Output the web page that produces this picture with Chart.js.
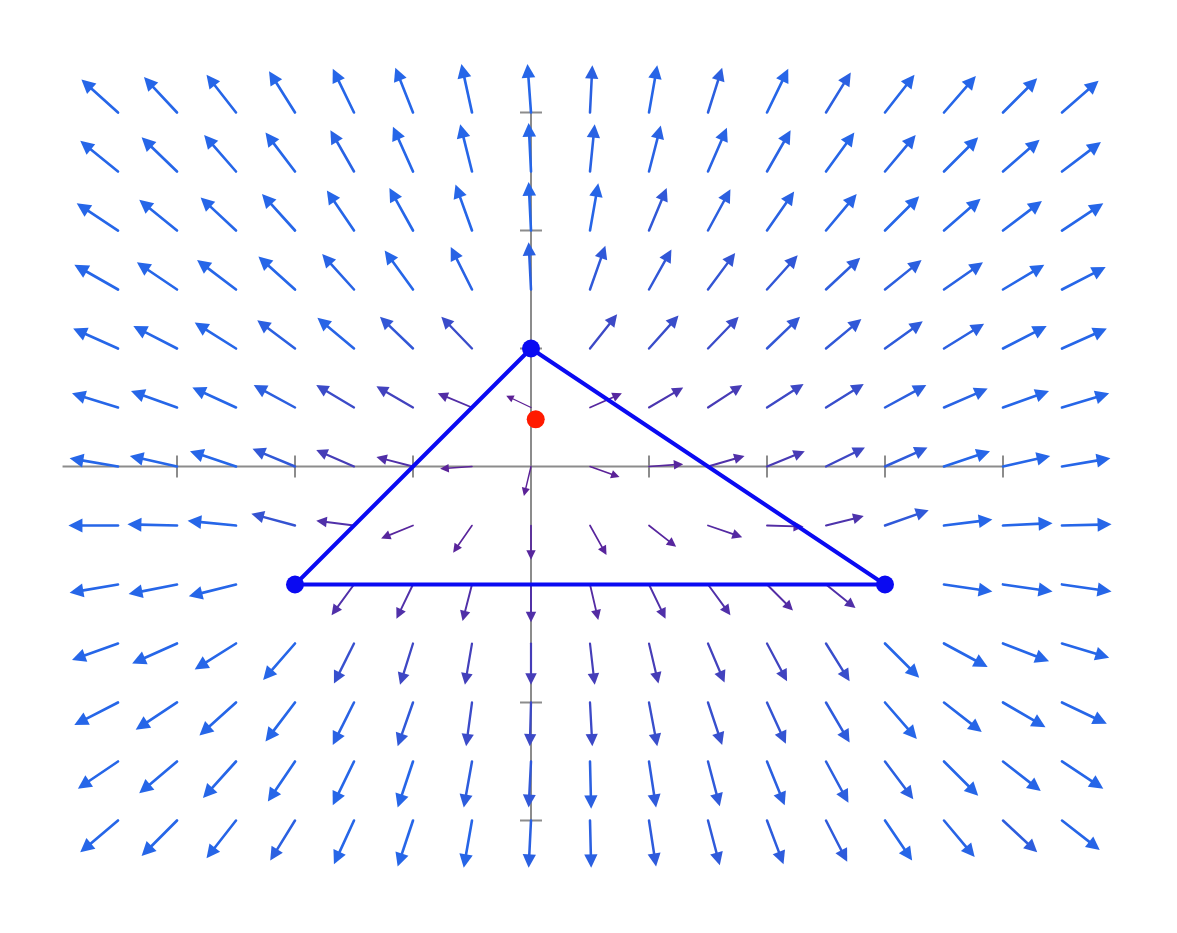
<!DOCTYPE html>
<html>
<head>
<meta charset="utf-8">
<script src="https://cdn.jsdelivr.net/npm/chart.js@4"></script>
<style>
  html, body { margin: 0; padding: 0; background: #fff; }
  canvas { display: block; }
</style>
</head>
<body>
<canvas id="myChart" width="1177" height="933"></canvas>
<script>
// grid of arrow tails
const gridX = [-3.5, -3, -2.5, -2, -1.5, -1, -0.5, 0, 0.5, 1, 1.5, 2, 2.5, 3, 3.5, 4, 4.5];
const gridY = [3, 2.5, 2, 1.5, 1, 0.5, 0, -0.5, -1, -1.5, -2, -2.5, -3];

// arrow components (x), one row per gridY value, null = no arrow
const arrowU = [
  [-0.31,-0.28,-0.25,-0.22,-0.18,-0.15,-0.09,-0.03,0.02,0.07,0.12,0.18,0.21,0.25,0.27,0.29,0.31],
  [-0.32,-0.30,-0.27,-0.25,-0.20,-0.17,-0.10,-0.02,0.04,0.10,0.16,0.20,0.24,0.26,0.29,0.31,0.33],
  [-0.35,-0.32,-0.30,-0.28,-0.23,-0.20,-0.14,-0.02,0.07,0.15,0.19,0.23,0.26,0.29,0.31,0.33,0.35],
  [-0.37,-0.34,-0.33,-0.31,-0.27,-0.24,-0.18,-0.02,0.13,0.19,0.23,0.26,0.29,0.31,0.33,0.35,0.37],
  [-0.38,-0.37,-0.35,-0.32,-0.31,-0.28,-0.26,null,0.23,0.25,0.26,0.28,0.30,0.32,0.34,0.37,0.38],
  [-0.39,-0.39,-0.37,-0.35,-0.32,-0.31,-0.29,-0.21,0.27,0.29,0.29,0.31,0.32,0.35,0.37,0.39,0.40],
  [-0.41,-0.40,-0.39,-0.36,-0.32,-0.31,-0.27,-0.06,0.25,0.29,0.31,0.32,0.33,0.36,0.39,0.40,0.41],
  [-0.42,-0.42,-0.41,-0.37,-0.32,-0.27,-0.16,0.00,0.14,0.23,0.29,0.31,0.32,0.37,0.41,0.42,0.42],
  [-0.41,-0.41,-0.40,null,-0.19,-0.14,-0.08,0.00,0.07,0.14,0.19,0.22,0.25,null,0.41,0.42,0.42],
  [-0.39,-0.38,-0.35,-0.27,-0.17,-0.11,-0.06,0.00,0.04,0.08,0.14,0.17,0.20,0.29,0.37,0.39,0.40],
  [-0.37,-0.35,-0.31,-0.25,-0.18,-0.13,-0.05,-0.01,0.02,0.07,0.12,0.16,0.20,0.27,0.32,0.36,0.38],
  [-0.34,-0.32,-0.28,-0.23,-0.18,-0.13,-0.07,-0.02,0.01,0.06,0.10,0.15,0.19,0.24,0.29,0.32,0.35],
  [-0.32,-0.30,-0.25,-0.21,-0.17,-0.13,-0.07,-0.02,0.01,0.06,0.10,0.14,0.18,0.23,0.26,0.29,0.32]
];
// arrow components (y)
const arrowV = [
  [0.28,0.30,0.32,0.35,0.37,0.38,0.41,0.41,0.40,0.40,0.38,0.37,0.34,0.32,0.31,0.29,0.27],
  [0.26,0.29,0.31,0.33,0.35,0.38,0.40,0.41,0.40,0.39,0.37,0.35,0.33,0.31,0.29,0.27,0.25],
  [0.23,0.26,0.28,0.31,0.34,0.36,0.39,0.41,0.40,0.36,0.35,0.33,0.31,0.29,0.27,0.25,0.23],
  [0.21,0.23,0.25,0.28,0.30,0.33,0.36,0.40,0.37,0.34,0.31,0.29,0.27,0.25,0.23,0.21,0.19],
  [0.17,0.19,0.22,0.24,0.26,0.27,0.27,null,0.29,0.28,0.27,0.27,0.25,0.23,0.21,0.19,0.17],
  [0.12,0.14,0.17,0.19,0.19,0.18,0.12,0.10,0.12,0.17,0.19,0.20,0.20,0.19,0.16,0.14,0.12],
  [0.07,0.09,0.13,0.15,0.14,0.08,-0.02,-0.25,-0.09,0.02,0.09,0.13,0.16,0.16,0.13,0.09,0.07],
  [0.00,0.01,0.04,0.10,0.04,-0.11,-0.23,-0.29,-0.25,-0.18,-0.10,-0.01,0.08,0.13,0.05,0.02,0.01],
  [-0.07,-0.08,-0.10,null,-0.26,-0.29,-0.31,-0.32,-0.30,-0.29,-0.26,-0.22,-0.20,null,-0.06,-0.06,-0.06],
  [-0.14,-0.17,-0.22,-0.31,-0.34,-0.35,-0.35,-0.35,-0.35,-0.34,-0.33,-0.32,-0.32,-0.29,-0.20,-0.15,-0.12],
  [-0.19,-0.23,-0.28,-0.33,-0.36,-0.37,-0.37,-0.37,-0.37,-0.37,-0.36,-0.35,-0.34,-0.31,-0.25,-0.21,-0.18],
  [-0.23,-0.27,-0.31,-0.34,-0.37,-0.39,-0.39,-0.39,-0.40,-0.39,-0.38,-0.37,-0.35,-0.32,-0.29,-0.25,-0.23],
  [-0.27,-0.30,-0.32,-0.34,-0.37,-0.39,-0.40,-0.40,-0.40,-0.39,-0.38,-0.37,-0.35,-0.34,-0.31,-0.27,-0.25]
];

// triangle and the red point
const triangleX = [0, -2, 3];
const triangleY = [1, -1, -1];
const pointX = [0.04];
const pointY = [0.40];

// axes
const xAxisRange = [-3.97, 4];
const yAxisRange = [-3, 3];
const xTicks = [-3, -2, -1, 1, 2, 3, 4];
const yTicks = [-3, -2, -1, 1, 2, 3];

const triData = triangleX.map((x, i) => ({ x: x, y: triangleY[i] }));
triData.push({ x: triangleX[0], y: triangleY[0] });
const vertData = triangleX.map((x, i) => ({ x: x, y: triangleY[i] }));
const redData = pointX.map((x, i) => ({ x: x, y: pointY[i] }));

function arrowColor(len) {
  let t = Math.min(1, Math.max(0, (len - 27) / 21));
  let te = Math.pow(t, 2.3);
  let r = Math.round(92 + (38 - 92) * te);
  let g = Math.round(32 + (102 - 32) * te);
  let b = Math.round(150 + (232 - 150) * te);
  return 'rgb(' + r + ',' + g + ',' + b + ')';
}

const fieldPlugin = {
  id: 'field',
  beforeDatasetsDraw(chart) {
    const ctx = chart.ctx;
    const xs = chart.scales.x, ys = chart.scales.y;
    ctx.save();

    // axes
    ctx.strokeStyle = '#8c8c8c';
    ctx.lineWidth = 2;
    ctx.beginPath();
    ctx.moveTo(xs.getPixelForValue(xAxisRange[0]), ys.getPixelForValue(0));
    ctx.lineTo(xs.getPixelForValue(xAxisRange[1]), ys.getPixelForValue(0));
    ctx.moveTo(xs.getPixelForValue(0), ys.getPixelForValue(yAxisRange[0]));
    ctx.lineTo(xs.getPixelForValue(0), ys.getPixelForValue(yAxisRange[1]));
    xTicks.forEach(t => {
      let px = xs.getPixelForValue(t), py = ys.getPixelForValue(0);
      ctx.moveTo(px, py - 11);
      ctx.lineTo(px, py + 11);
    });
    yTicks.forEach(t => {
      let px = xs.getPixelForValue(0), py = ys.getPixelForValue(t);
      ctx.moveTo(px - 11, py);
      ctx.lineTo(px + 11, py);
    });
    ctx.stroke();

    // arrows
    ctx.lineCap = 'round';
    for (let j = 0; j < gridY.length; j++) {
      for (let i = 0; i < gridX.length; i++) {
        let u = arrowU[j][i], v = arrowV[j][i];
        if (u === null || v === null) continue;
        let x0 = xs.getPixelForValue(gridX[i]);
        let y0 = ys.getPixelForValue(gridY[j]);
        let x1 = xs.getPixelForValue(gridX[i] + u);
        let y1 = ys.getPixelForValue(gridY[j] + v);
        let dx = x1 - x0, dy = y1 - y0;
        let len = Math.sqrt(dx * dx + dy * dy);
        if (len < 1) continue;
        let ux = dx / len, uy = dy / len;
        let head = 7.5 + Math.max(0, len - 28) * 0.3;
        let half = head * 0.5;
        let col = arrowColor(len);
        ctx.strokeStyle = col;
        ctx.fillStyle = col;
        ctx.lineWidth = 1.3 + Math.max(0, len - 28) * 0.065;
        ctx.beginPath();
        ctx.moveTo(x0, y0);
        ctx.lineTo(x1 - ux * head * 0.8, y1 - uy * head * 0.8);
        ctx.stroke();
        ctx.beginPath();
        ctx.moveTo(x1, y1);
        ctx.lineTo(x1 - ux * head - uy * half, y1 - uy * head + ux * half);
        ctx.lineTo(x1 - ux * head + uy * half, y1 - uy * head - ux * half);
        ctx.closePath();
        ctx.fill();
      }
    }
    ctx.restore();
  }
};

const ctx = document.getElementById('myChart');
const myChart = new Chart(ctx, {
  type: 'scatter',
  data: {
    datasets: [
      {
        data: redData,
        pointRadius: 9,
        pointBackgroundColor: '#ff1a00',
        pointBorderWidth: 0
      },
      {
        data: vertData,
        pointRadius: 9,
        pointBackgroundColor: '#0a0af2',
        pointBorderWidth: 0
      },
      {
        data: triData,
        showLine: true,
        borderColor: '#0a0af2',
        borderWidth: 4,
        pointRadius: 0,
        tension: 0
      }
    ]
  },
  options: {
    responsive: false,
    animation: false,
    devicePixelRatio: 1,
    layout: { padding: 0, autoPadding: false },
    plugins: {
      legend: { display: false },
      tooltip: { enabled: false }
    },
    scales: {
      x: { type: 'linear', min: -4.5, max: 5.4746, display: false },
      y: { type: 'linear', min: -3.9534, max: 3.9534, display: false }
    }
  },
  plugins: [fieldPlugin]
});
</script>
</body>
</html>
